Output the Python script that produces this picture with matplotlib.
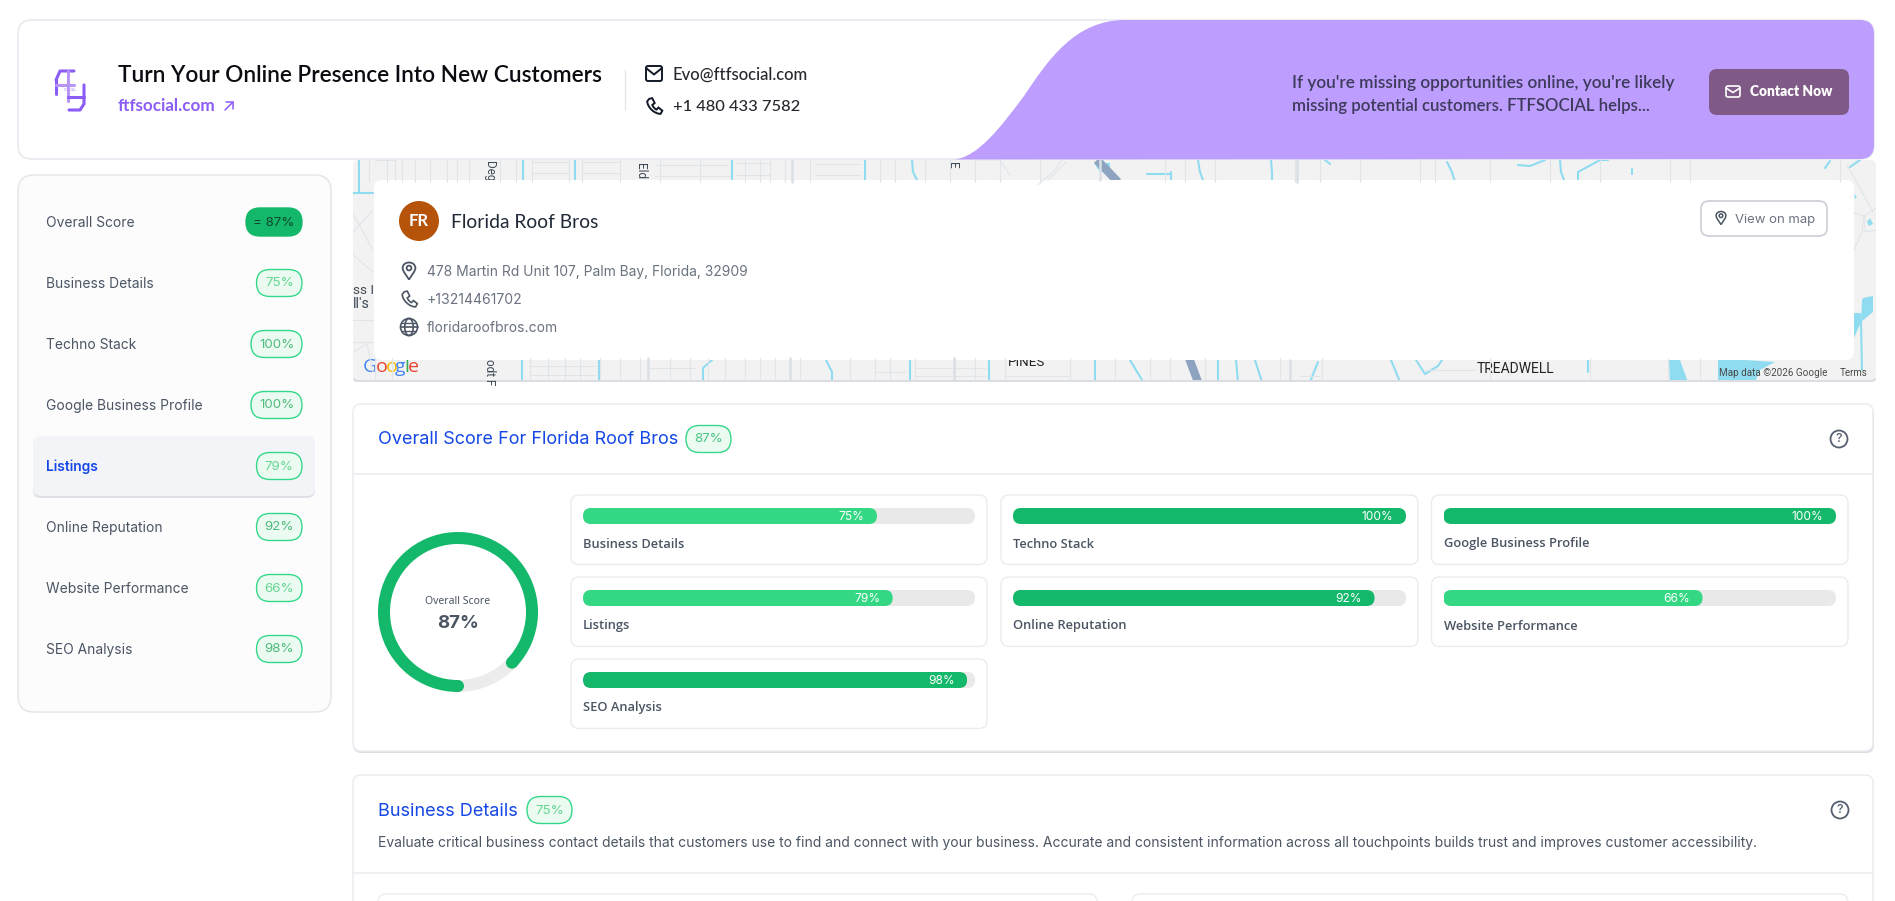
import matplotlib
matplotlib.use("Agg")
import matplotlib.pyplot as plt
from matplotlib.patches import FancyBboxPatch, PathPatch, Circle, Polygon, Ellipse
from matplotlib.path import Path
import numpy as np

W, H = 1895, 901
categories = ["Business Details", "Techno Stack", "Google Business Profile", "Listings",
              "Online Reputation", "Website Performance", "SEO Analysis"]
scores = [75, 100, 100, 79, 92, 66, 98]
overall_label = "Overall Score"
overall_score = 87
company = "Florida Roof Bros"
address = "478 Martin Rd Unit 107, Palm Bay, Florida, 32909"
phone_no = "+13214461702"
website = "floridaroofbros.com"

DARK, LIGHT, TRACK = "#14b86a", "#34d884", "#e9e9e9"
BLUE = "#1447e6"
BODY = "Inter"
HEAD = "Lato"
EDGE = "#ebecf0"

fig = plt.figure(figsize=(W / 100, H / 100), dpi=100, facecolor="white")
ax = fig.add_axes([0, 0, 1, 1])
ax.set_xlim(0, W); ax.set_ylim(H, 0); ax.axis("off")
rend = fig.canvas.get_renderer()


def T(x, y, s, size=10, w=None, c="#374151", ha="left", va="center", fam=BODY, wt="normal", a=None, z=10, rot=0):
    t = (a or ax).text(x, y + 1, s, fontsize=size, color=c, ha=ha, va=va, family=fam, weight=wt, zorder=z, rotation=rot)
    if w:
        t.set_fontsize(size * w / t.get_window_extent(rend).width)
    return t


def R(x0, y0, x1, y1, r, fc="white", ec="none", lw=1, z=2, add=True):
    p = FancyBboxPatch((x0, y0), x1 - x0, y1 - y0, boxstyle=f"round,pad=0,rounding_size={r}",
                       fc=fc, ec=ec, lw=lw, zorder=z, transform=ax.transData)
    if add:
        ax.add_patch(p)
    return p


def L(xs, ys, c, lw=1, z=5, clip=None, cap="round"):
    l, = ax.plot(xs, ys, color=c, lw=lw, zorder=z, solid_capstyle=cap, solid_joinstyle="round")
    if clip is not None:
        l.set_clip_path(clip)
    return l


def envelope(x0, y0, x1, y1, c, lw=1.4, z=12):
    R(x0, y0, x1, y1, 2, fc="none", ec=c, lw=lw, z=z)
    L([x0, (x0 + x1) / 2, x1], [y0 + 2, (y0 + y1) / 2 + 1, y0 + 2], c, lw, z)


def phone(cx, cy, s, c, lw=1.4, z=12):
    V = [(-.55, -.85), (-.2, -.92), (.08, -.35), (-.2, -.12), (-.05, .2), (.1, .35), (.3, .42),
         (.52, .18), (.98, .55), (.78, .92), (.1, .95), (-.75, .2), (-.8, -.55), (-.55, -.85)]
    C = [Path.MOVETO, Path.LINETO, Path.LINETO, Path.LINETO, Path.CURVE4, Path.CURVE4, Path.CURVE4,
         Path.LINETO, Path.LINETO, Path.LINETO, Path.CURVE4, Path.CURVE4, Path.CURVE4, Path.CLOSEPOLY]
    v = [(cx + a * s, cy + b * s) for a, b in V]
    ax.add_patch(PathPatch(Path(v, C), fc="none", ec=c, lw=lw, zorder=z))


def pin(cx, cy, s, c, lw=1.3, z=12):
    V = [(0, 1), (-.35, .45), (-.75, 0), (-.75, -.35), (-.75, -.8), (-.35, -1), (0, -1),
         (.35, -1), (.75, -.8), (.75, -.35), (.75, 0), (.35, .45), (0, 1)]
    C = [Path.MOVETO] + [Path.CURVE4] * 12
    v = [(cx + a * s, cy + b * s) for a, b in V]
    ax.add_patch(PathPatch(Path(v, C), fc="none", ec=c, lw=lw, zorder=z))
    ax.add_patch(Circle((cx, cy - .35 * s), .28 * s, fc="none", ec=c, lw=lw, zorder=z))


def globe(cx, cy, r, c, lw=1.2, z=12):
    ax.add_patch(Circle((cx, cy), r, fc="none", ec=c, lw=lw, zorder=z))
    ax.add_patch(Ellipse((cx, cy), r, 2 * r, fc="none", ec=c, lw=lw, zorder=z))
    L([cx - r, cx + r], [cy, cy], c, lw, z)
    L([cx - .85 * r, cx + .85 * r], [cy - .5 * r] * 2, c, lw * .8, z)
    L([cx - .85 * r, cx + .85 * r], [cy + .5 * r] * 2, c, lw * .8, z)


def helpicon(cx, cy):
    ax.add_patch(Circle((cx, cy), 8.5, fc="none", ec="#565f70", lw=1.3, zorder=12))
    T(cx, cy - 1, "?", 9, c="#565f70", ha="center", wt="medium", z=12)


def badge(x0, x1, yc, label, fc="#ebfbf1", ec="#34d88a", tc="#4cc682", h=27, z=9):
    R(x0, yc - h / 2, x1, yc + h / 2, h / 2, fc=fc, ec=ec, lw=1.0, z=z)
    T((x0 + x1) / 2, yc - .5, label, 9.6, c=tc, ha="center", z=z + 1)


def badge_color(v):
    return "#4fbb7c" if v >= 80 else "#66d592"


# ---------------------------------------------------- map
mp = R(353, 160, 1876, 380, 6, fc="#f3f2f3", ec="none", z=1)
R(353, 376, 1876, 382, 4, fc="#dcdde2", z=.5)
STREET, CANAL = "#e0e5ea", "#8fdcf0"

for x in [369, 387, 402, 415, 430, 447, 457, 469, 500, 516, 532, 569, 582, 620, 660, 700, 745, 760, 770, 785, 810, 880,
          895, 925, 950, 975, 1000, 1040, 1165, 1185, 1215, 1295, 1320, 1360, 1420, 1435, 1490, 1550, 1600, 1670, 1690, 1840]:
    L([x, x], [160, 182], STREET, .8, clip=mp)
for x in [375, 392, 530, 548, 565, 580, 600, 620, 640, 670, 690, 708, 725, 745, 760, 775, 800, 850, 875, 890, 915, 955, 975,
          1005, 1070, 1115, 1150, 1170, 1205, 1280, 1322, 1490, 1590, 1668, 1700]:
    L([x, x], [358, 382], STREET, .8, clip=mp)
for y0, x0, x1 in [(162, 532, 569), (173, 532, 569), (162, 582, 620), (173, 582, 620), (165, 655, 728), (176, 655, 730),
                   (163, 735, 770), (175, 735, 770), (164, 815, 860), (175, 815, 860),
                   (366, 530, 595), (375, 530, 595), (368, 650, 695), (372, 875, 905), (368, 915, 985), (376, 915, 985),
                   (376, 1006, 1070), (370, 1425, 1475), (376, 1300, 1320)]:
    L([x0, x1], [y0, y0], STREET, .8, clip=mp)
for xs, ys in [([353, 373], [232, 210]), ([353, 373], [214, 250]), ([353, 373], [255, 272]), ([353, 373], [320, 320]),
               ([353, 373], [342, 342]), ([353, 367], [352, 344]), ([367, 373], [344, 372]),
               ([1847, 1873], [165, 212]), ([1854, 1864, 1876], [213, 216, 208]), ([1864, 1862, 1854], [216, 232, 250]),
               ([1865, 1865, 1876], [216, 232, 230]), ([978, 1000, 1010], [160, 160, 175]),
               ([1038, 1055, 1062], [185, 170, 160]), ([1048, 1066], [180, 162]), ([375, 395, 395], [160, 160, 180])]:
    L(xs, ys, STREET, .8, clip=mp)
for x, y0, y1 in [(792, 160, 182), (1100, 160, 180), (1297, 160, 182), (1290, 360, 382), (648, 358, 382), (790, 358, 382), (954, 358, 382)]:
    L([x, x], [y0, y1], "#dae0e5", 1.8, clip=mp)
for xs, ys in [([359, 359], [160, 193]), ([353, 373], [193, 193]), ([523, 523], [160, 182]), ([575, 575], [160, 182]),
               ([732, 732], [160, 182]), ([865, 865], [160, 182]), ([912, 913, 918], [160, 172, 182]),
               ([1171, 1171], [172, 182]), ([1147, 1171], [174, 174]), ([1198, 1200, 1203], [160, 172, 180]), ([1271, 1272, 1272], [160, 172, 182]),
               ([1325, 1330], [160, 164]), ([1447, 1452, 1455], [162, 172, 182]), ([1518, 1530, 1545], [165, 166, 160]),
               ([1560, 1561, 1564], [160, 172, 180]), ([1578, 1578, 1600, 1608], [182, 172, 160, 160]), ([1632, 1632], [169, 174]),
               ([1830, 1825], [161, 168]), ([1850, 1860], [167, 160]),
               ([522, 522], [358, 382]), ([599, 599], [358, 382]), ([712, 703, 703], [360, 368, 382]), ([826, 832, 832], [360, 372, 382]),
               ([910, 910], [358, 382]), ([989, 989], [358, 382]), ([1095, 1095], [358, 382]), ([1130, 1142], [360, 380]),
               ([1218, 1218], [360, 382]), ([1236, 1238], [360, 382]), ([1255, 1262], [360, 382]), ([1318, 1310], [362, 382]),
               ([1391, 1400], [360, 382]), ([1416, 1425, 1438, 1442], [360, 374, 366, 360]),
               ([1588, 1588], [360, 372]), ([1861, 1862], [322, 370])]:
    L(xs, ys, CANAL, 1.5, z=1.5, clip=mp)
for pts in [[(1669, 360), (1680, 360), (1688, 382), (1670, 382)], [(1718, 360), (1745, 360), (1750, 382), (1718, 382)],
            [(1745, 360), (1775, 362), (1760, 370), (1755, 382), (1748, 382)], [(1863, 298), (1873, 296), (1873, 312), (1861, 322), (1862, 300)],
            [(1854, 313), (1861, 313), (1861, 322), (1854, 338)], [(1854, 194), (1857, 197), (1855, 199)],
            [(1867, 222), (1870, 218), (1873, 224), (1869, 226)], [(1094, 163), (1110, 163), (1110, 172), (1100, 172)]]:
    g = Polygon(pts, closed=True, fc=CANAL, ec="none", zorder=1.5); ax.add_patch(g); g.set_clip_path(mp)
for xs, ys in [([1097, 1118], [160, 182]), ([1189, 1198], [358, 382])]:
    L(xs, ys, "#8ea3bf", 6, z=3, clip=mp, cap="butt")
T(489, 170, "Deg", 8.5, c="#3d4a56", ha="center", fam="Roboto", rot=270, z=3)
T(641, 170, "Eld", 8.5, c="#3d4a56", ha="center", fam="Roboto", rot=270, z=3)
T(953, 164, "E", 8.5, c="#3d4a56", ha="center", fam="Roboto", rot=270, z=3)
T(353, 289, "ss I", 9, w=21, c="#3d4a56", fam="Roboto", z=3)
T(353, 303, "ll's", 9, w=17, c="#3d4a56", fam="Roboto", z=3)
T(489, 371, "odt F", 8.5, c="#3d4a56", ha="center", fam="Roboto", rot=270, z=3)
T(1008, 362, "PINES", 8, w=37, c="#222222", fam="Roboto", z=3)
T(1477, 368, "TREADWELL", 8.5, w=78, c="#222222", fam="Roboto", z=3)
T(1719, 372, "Map data ©2026 Google", 7, w=109, c="#4a4a4a", fam="Roboto", z=3)
T(1840, 372, "Terms", 7, w=28, c="#4a4a4a", fam="Roboto", z=3)
gx = 363
for ch, col, dx in zip("Google", ["#4285f4", "#ea4335", "#fbbc05", "#4285f4", "#34a853", "#ea4335"], [0, 13, 22.5, 32, 41, 45]):
    T(gx + dx, 366, ch, 14, c=col, fam="Open Sans", z=3)

# ---------------------------------------------------- map info card
R(374, 180, 1854, 360, 8, fc="white", z=4)
ax.add_patch(Circle((419, 221), 20, fc="#b45309", ec="none", zorder=5))
T(419, 220.5, "".join(w[0] for w in company.split()[:2]), 13, w=20, c="white", ha="center", fam=HEAD, wt="bold")
T(451, 222, company, 13, w=147, c="#1f2937", fam=HEAD)
GREY = "#6b7280"
pin(409, 271, 8.5, "#4b5563")
phone(409, 299, 8.5, "#4b5563", 1.2)
globe(409, 327, 8.5, "#4b5563")
T(427, 271, address, 10, w=321, c=GREY)
T(427, 299, phone_no, 10, w=96, c=GREY)
T(427, 327, website, 10, w=131, c=GREY)
R(1701, 201, 1827, 236, 8, fc="white", ec="#d1d5db", lw=1.4, z=5)
pin(1721, 218, 6.5, "#4b5563", 1.1)
T(1735, 219, "View on map", 10, w=81, c=GREY, z=6)

# ---------------------------------------------------- header
R(18, 20, 1874, 159, 14, fc="white", ec="#e8e9ef", lw=1.2, z=6)
pv = [(954, 159.5), (978, 157), (1000, 128), (1024, 96),
      (1048, 60), (1075, 20), (1125, 20),
      (1860, 20), (1874, 20), (1874, 34), (1874, 145), (1874, 159), (1860, 159), (954, 159.5)]
pc = [Path.MOVETO] + [Path.CURVE4] * 6 + [Path.LINETO] + [Path.CURVE3] * 2 + [Path.LINETO] + [Path.CURVE3] * 2 + [Path.CLOSEPOLY]
ax.add_patch(PathPatch(Path(pv, pc), fc="#bd9eff", ec="none", zorder=7))

PUR = "#8b5cf6"
L([56, 56], [94, 80], PUR, 2.2, 8); L([56, 60, 74], [80, 71, 71], PUR, 2.2, 8)
L([56, 74], [85, 85], "#b794f6", 2.2, 8); L([68, 68], [71, 101], "#b794f6", 2.2, 8)
L([84, 84, 80, 69], [85, 104, 110, 110], PUR, 2.2, 8); L([68, 84], [97, 97], PUR, 2.2, 8)
T(70, 89, "SOCIAL", 2.6, c="#b794f6", ha="center", z=8)

T(118, 75, "Turn Your Online Presence Into New Customers", 16, w=486, c="#0b0b12", fam=HEAD, wt="semibold", z=8)
T(118, 105, "ftfsocial.com", 11, w=97, c=PUR, fam=HEAD, wt="bold", z=8)
L([225, 233], [110, 102], PUR, 1.1, 8); L([226, 233, 233], [102, 102, 109], PUR, 1.1, 8)
L([625, 625], [70, 110], "#e5e7eb", 1, 8)
envelope(646, 66, 662, 81, "#111827")
T(673, 74, "Evo@ftfsocial.com", 11, w=136, c="#27272f", fam=HEAD, wt="medium", z=8)
phone(654, 106, 8.5, "#111827")
T(673, 106, "+1 480 433 7582", 11, w=127, c="#27272f", fam=HEAD, wt="medium", z=8)
T(1292, 82, "If you're missing opportunities online, you're likely", 11, w=382, c="#3d3a5c", fam=HEAD, wt="semibold", z=8)
T(1292, 105, "missing potential customers. FTFSOCIAL helps...", 11, w=356, c="#3d3a5c", fam=HEAD, wt="semibold", z=8)
R(1709, 69, 1849, 115, 8, fc="#7f5a87", z=8)
envelope(1726, 86, 1740, 97, "white", 1.2)
T(1750, 90, "Contact Now", 10.5, w=83, c="white", fam=HEAD, wt="heavy", z=9)

# ---------------------------------------------------- sidebar
R(18, 175, 331, 712, 16, fc="#fcfcfd", ec="#e5e6ea", lw=1.1, z=2)
side_labels = [overall_label] + categories
side_vals = [overall_score] + scores
R(33, 437, 315, 498, 8, fc="#dfe0e5", z=2.5)
R(33, 436, 315, 496, 8, fc="#f3f4f8", z=3)
for i, (lab, v) in enumerate(zip(side_labels, side_vals)):
    yc = 222 + 61 * i
    act = lab == "Listings"
    T(46, yc, lab, 9.95, c=BLUE if act else "#4b5563", wt="semibold" if act else "normal", z=6)
    x0 = 251 if v == 100 else 256.5
    if i == 0:
        badge(246, 302, yc, "= 87%", fc=DARK, ec=DARK, tc="#0e4a30", h=28)
    else:
        badge(x0, 302, yc, f"{v}%", tc=badge_color(v))

# ---------------------------------------------------- overall card
R(353, 408, 1874, 753, 8, fc="#dcdde3", z=1.5)
R(353, 404, 1873, 751, 8, fc="white", ec=EDGE, lw=1.1, z=2)
L([353, 1873], [474, 474], EDGE, 1.1, 3)
T(378, 439, f"Overall Score For {company}", 13, w=300, c=BLUE, z=6)
badge(686, 731, 439, f"{overall_score}%", tc="#4cc682")
helpicon(1839, 439)

tot_x = [571, 1001, 1431.5]
tot_w = [416, 417, 416.5]
tot_y = [495, 577, 659]
for i, (lab, v) in enumerate(zip(categories, scores)):
    cx, cw, cy = tot_x[i % 3], tot_w[i % 3], tot_y[i // 3]
    R(cx, cy, cx + cw, cy + 69.5, 8, fc="white", ec=EDGE, lw=1.0, z=3)
    x0, x1, y0, y1 = cx + 12, cx + cw - 12, cy + 13, cy + 29
    b = fig.add_axes([x0 / W, 1 - y1 / H, (x1 - x0) / W, (y1 - y0) / H])
    b.set_xlim(0, 100); b.set_ylim(-.5, .5); b.axis("off")
    track = b.barh(0, 100, height=1, color=TRACK)[0]
    fill = b.barh(0, v, height=1, color=DARK if v >= 80 else LIGHT)[0]
    track.set_clip_path(R(x0, y0, x1, y1, 8, add=False))
    fx = x0 + (x1 - x0) * v / 100
    fill.set_clip_path(R(x0, y0, fx, y1, 8, add=False))
    b.annotate(f"{v}%", (v, 0), xytext=(-12.5, -1), textcoords="offset pixels", ha="right", va="center",
               fontsize=8.6, color="white", family=BODY)
    T(x0, cy + 48, lab, 9.3, w=None, c="#4b5563", fam="Open Sans", wt="semibold", z=6)

# gauge
R_OUT = 80
S = R_OUT * 1.02
g = fig.add_axes([(458 - S) / W, 1 - (612 + S) / H, 2 * S / W, 2 * S / H])
g.pie([overall_score, 100 - overall_score], startangle=270, counterclock=False, colors=[DARK, "#ececec"],
      radius=1, wedgeprops=dict(width=12 / 80, linewidth=0))
g.set_xlim(-1.02, 1.02); g.set_ylim(-1.02, 1.02); g.set_aspect("equal")
rm = 74 / 80
for ang in [270, 270 - 360 * overall_score / 100]:
    g.add_patch(Circle((rm * np.cos(np.radians(ang)), rm * np.sin(np.radians(ang))), 6 / 80, fc=DARK, ec="none", zorder=5))
T(458, 601, overall_label, 8.5, w=65, c="#4b5563", ha="center", fam="Noto Sans")
T(458, 622, f"{overall_score}%", 15, w=42, c="#4b5563", ha="center", wt="bold")

# ---------------------------------------------------- business details card
R(353, 775, 1873, 920, 8, fc="white", ec=EDGE, lw=1.1, z=2)
L([353, 1873], [873, 873], EDGE, 1.1, 3)
T(378, 810, categories[0], 13, w=140, c=BLUE, z=6)
badge(527, 572, 810, f"{scores[0]}%", tc="#66d592")
helpicon(1840, 810)
T(378, 842, "Evaluate critical business contact details that customers use to find and connect with your business. "
            "Accurate and consistent information across all touchpoints builds trust and improves customer accessibility.",
  10, w=1381, c="#4b5563", z=6)
R(378, 894, 1097, 930, 8, fc="white", ec=EDGE, lw=1.0, z=3)
R(1132, 894, 1848, 930, 8, fc="white", ec=EDGE, lw=1.0, z=3)

fig.savefig("out.png", dpi=100, facecolor="white")
